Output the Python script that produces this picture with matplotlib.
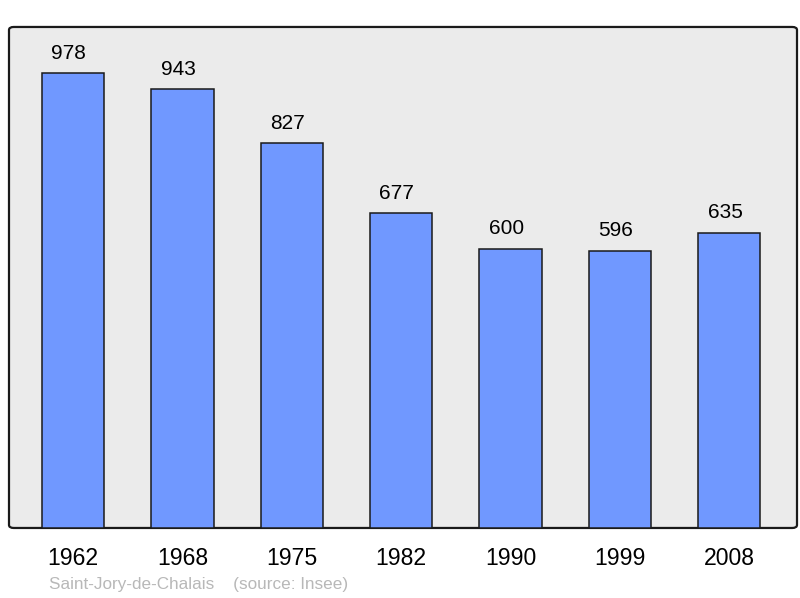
import matplotlib.pyplot as plt
from matplotlib.patches import FancyBboxPatch

plt.rcParams['font.family'] = ['Liberation Sans', 'DejaVu Sans']

years = ['1962', '1968', '1975', '1982', '1990', '1999', '2008']
population = [978, 943, 827, 677, 600, 596, 635]

fig = plt.figure(figsize=(8, 5.98), dpi=100)
ax = fig.add_axes([0.01125, 0.1171, 0.985, 0.8378])
ax.set_facecolor('none')

# rounded grey frame behind the bars
frame = FancyBboxPatch((0, 0), 1, 1, boxstyle='round,pad=0,rounding_size=0.006',
                       transform=ax.transAxes, facecolor='#ebebeb',
                       edgecolor='#1a1a1a', linewidth=1.6, zorder=0, clip_on=False)
ax.add_patch(frame)

x = range(len(years))
bars = ax.bar(x, population, width=0.57, color='#7098ff', edgecolor='#1a1a1a',
              linewidth=1.1, zorder=2)

# labels sit a touch left of the bar centres, as in the original
for xi, v in zip(x, population):
    ax.annotate(str(v), (xi, v), xytext=(-3, 7.5), textcoords='offset points',
                ha='center', va='bottom', fontsize=15)

ax.set_xlim(-0.585, 6.62)
ax.set_ylim(0, 1077)
ax.set_xticks(list(x))
ax.set_xticklabels(years, fontsize=16.6)
ax.tick_params(axis='x', length=0, pad=14)
ax.set_yticks([])
for s in ax.spines.values():
    s.set_visible(False)

fig.text(49 / 800, 1 - 584 / 598, 'Saint-Jory-de-Chalais    (source: Insee)',
         color='#b8b8b8', fontsize=12.3, ha='left', va='center')

fig.savefig('out.png', dpi=100)
